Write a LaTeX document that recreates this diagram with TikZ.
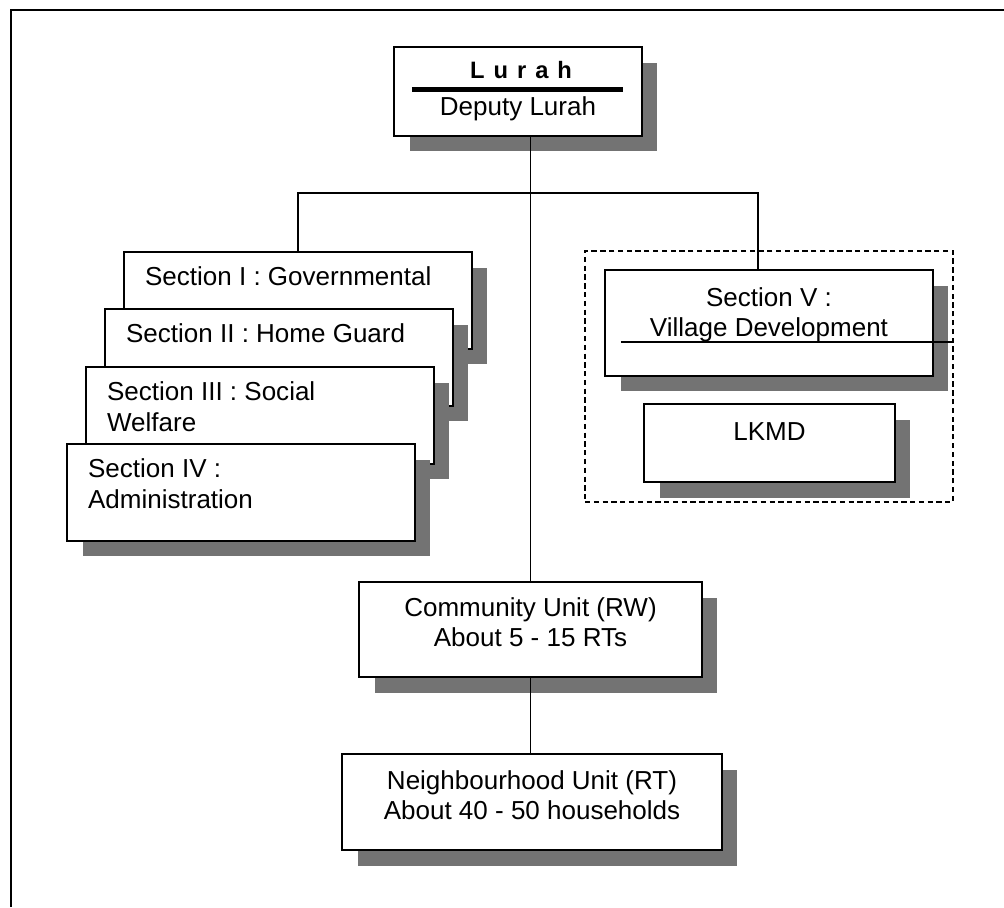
\documentclass[tikz,border=0pt]{standalone}
\usepackage{fontspec}
\setmainfont{Liberation Sans}
\usepackage{tikz}
\usetikzlibrary{positioning, shadows}

\begin{document}
\begin{tikzpicture}[
  x=0.02cm, y=-0.02cm,
  unit/.style={rectangle, draw, line width=1.4pt, fill=white, inner sep=0pt,
    drop shadow={shadow xshift=0.31cm, shadow yshift=-0.31cm, opacity=1, fill=black!55, draw=none}},
  section/.style={unit, minimum width=6.96cm, minimum height=1.94cm},
  groupbox/.style={draw, dash pattern=on 3pt off 2pt, line width=1.1pt, inner sep=0pt},
  txt/.style={inner sep=0pt, font=\fontsize{14.8}{17.1}\selectfont},
  link/.style={line width=1.1pt}
]
\useasboundingbox (0,0) rectangle (1004,907);

% frame
\draw[line width=1.7pt] (11,907) -- (11,10) -- (1004,10);

% head
\node[unit, minimum width=4.96cm, minimum height=1.78cm] (lurah) at (518,91.5) {};
\node[txt, anchor=base, font=\fontsize{13.5}{15}\selectfont\bfseries\addfontfeatures{LetterSpace=38}] (lurahname) at (521,78) {Lurah};
\draw[line width=2.4pt] ([xshift=0.38cm,yshift=0.04cm]lurah.west) -- ([xshift=-0.4cm,yshift=0.04cm]lurah.east);
\node[txt, anchor=base] (deputy) at (518,115) {Deputy Lurah};

% sections I - IV
\node[section] (sec1) at (298,300.5) {};
\node[txt, below right=0.32cm and 0.44cm of sec1.north west] (sec1text) {Section I : Governmental};
\node[section] (sec2) at (279,357.5) {};
\node[txt, below right=0.32cm and 0.44cm of sec2.north west] (sec2text) {Section II : Home Guard};
\node[section] (sec3) at (260,415.5) {};
\node[txt, align=left, below right=0.32cm and 0.44cm of sec3.north west] (sec3text) {Section III : Social\\Welfare};
\node[section] (sec4) at (241,492.5) {};
\node[txt, align=left, below right=0.32cm and 0.44cm of sec4.north west] (sec4text) {Section IV :\\Administration};

% section V and LKMD
\node[groupbox, minimum width=7.36cm, minimum height=5.02cm] (grp) at (769,376.5) {};
\node[unit, minimum width=6.56cm, minimum height=2.12cm] (sec5) at (769,323) {};
\node[txt, align=center] (sec5text) at (769,315) {Section V :\\Village Development};
\coordinate (sec5line) at ([xshift=0.34cm, yshift=-0.38cm]sec5.west);
\draw[link] (sec5line) -- (sec5line -| grp.east);
\node[unit, minimum width=5.02cm, minimum height=1.56cm] (lkmd) at (769.5,443) {};
\node[txt] (lkmdtext) at (769.5,432) {LKMD};

% RW and RT
\node[unit, minimum width=6.86cm, minimum height=1.9cm] (rw) at (530.5,629.5) {};
\node[txt, align=center] (rwtext) at (530.5,622) {Community Unit (RW)\\About 5 - 15 RTs};
\node[unit, minimum width=7.6cm, minimum height=1.92cm] (rt) at (532,802) {};
\node[txt, align=center] (rttext) at (532,795.5) {Neighbourhood Unit (RT)\\About 40 - 50 households};

% connectors
\coordinate (fork) at (rw.north |- 0,193);
\coordinate (sec5drop) at (758,270);
\draw[link] (lurah.south -| rw.north) -- (rw.north);
\draw[link] (sec1.north) |- (fork) -| (sec5drop);
\draw[link] (rw.south) -- (rw.south |- rt.north);

\end{tikzpicture}
\end{document}
